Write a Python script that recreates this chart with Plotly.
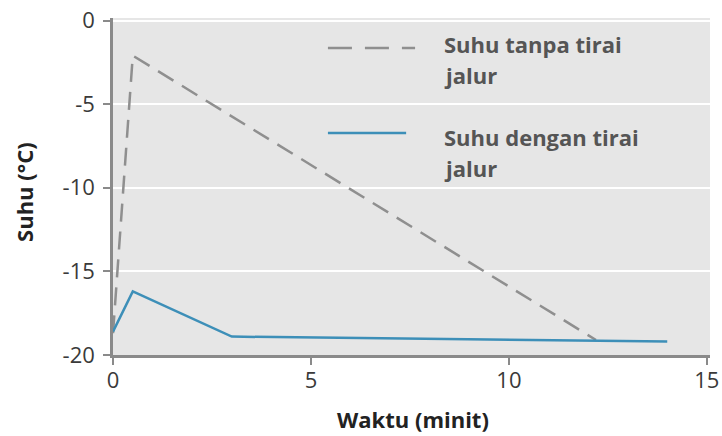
import plotly.graph_objects as go

# Data
time_without = [0, 0.5, 12.2]
temp_without = [-18.7, -2.1, -19.1]

time_with = [0, 0.5, 3, 14]
temp_with = [-18.6, -16.2, -18.9, -19.2]

name_without = ["Suhu tanpa tirai", "jalur"]
name_with = ["Suhu dengan tirai", "jalur"]

x_ticks = [0, 5, 10, 15]
y_ticks = [0, -5, -10, -15, -20]

FONT = "Open Sans"
DASH_COLOR = "#8f8f8f"
LINE_COLOR = "#3d8fb8"
DASH = "18px,10px"

fig = go.Figure()
fig.add_trace(go.Scatter(x=time_without, y=temp_without, mode="lines",
                         line=dict(color=DASH_COLOR, width=2.5, dash=DASH),
                         showlegend=False))
fig.add_trace(go.Scatter(x=time_with, y=temp_with, mode="lines",
                         line=dict(color=LINE_COLOR, width=2.5),
                         showlegend=False))

# manual legend (long sample lines, as in the reference)
legend_items = [(name_without, DASH_COLOR, "24px,13px", 0.911, 0.506, [0.924, 0.831]),
                (name_with, LINE_COLOR, "solid", 0.659, 0.491, [0.648, 0.555])]
for lines, color, dash, ly, lx1, tys in legend_items:
    fig.add_shape(type="line", xref="paper", yref="paper",
                  x0=0.360, x1=lx1, y0=ly, y1=ly,
                  line=dict(color=color, width=2.5, dash=dash))
    for txt, ty in zip(lines, tys):
        fig.add_annotation(xref="paper", yref="paper", x=0.551, y=ty,
                           xanchor="left", yanchor="middle", align="left",
                           text="<b>" + txt + "</b>", showarrow=False,
                           font=dict(family=FONT, size=22, color="#555555"))

fig.add_annotation(xref="paper", yref="paper", x=0.503, y=-0.19,
                   xanchor="center", yanchor="middle", showarrow=False,
                   text="<b>Waktu (minit)</b>",
                   font=dict(family=FONT, size=22, color="#222222"))
fig.add_annotation(xref="paper", yref="paper", x=-0.149, y=0.484,
                   xanchor="center", yanchor="middle", showarrow=False,
                   text="<b>Suhu (°C)</b>", textangle=-90,
                   font=dict(family=FONT, size=22, color="#222222"))

fig.update_xaxes(range=[0, 15.08], tickvals=x_ticks, ticktext=[str(v) for v in x_ticks],
                 showgrid=False, zeroline=False, showline=True, linecolor="#8a8a8a",
                 linewidth=2.5, ticks="outside", ticklen=7, tickwidth=2, tickcolor="#8a8a8a",
                 ticklabelstandoff=-3,
                 tickfont=dict(family=FONT, size=22, color="#3a3a3a"), automargin=False)
fig.update_yaxes(range=[-20, 0.15], tickvals=y_ticks, ticktext=[str(v) for v in y_ticks],
                 showgrid=True, gridcolor="white", gridwidth=2, zeroline=False,
                 showline=True, linecolor="#8a8a8a", linewidth=2.5,
                 ticks="outside", ticklen=7, tickwidth=2, tickcolor="#8a8a8a",
                 ticklabelstandoff=4,
                 tickfont=dict(family=FONT, size=22, color="#3a3a3a"), automargin=False)

fig.update_layout(width=722, height=436,
                  margin=dict(l=113, r=12, t=18, b=81),
                  plot_bgcolor="#e6e6e6", paper_bgcolor="white",
                  font=dict(family=FONT))

fig.write_html("out.html", config={"displayModeBar": False},
               post_script="document.body.style.margin='0';")
